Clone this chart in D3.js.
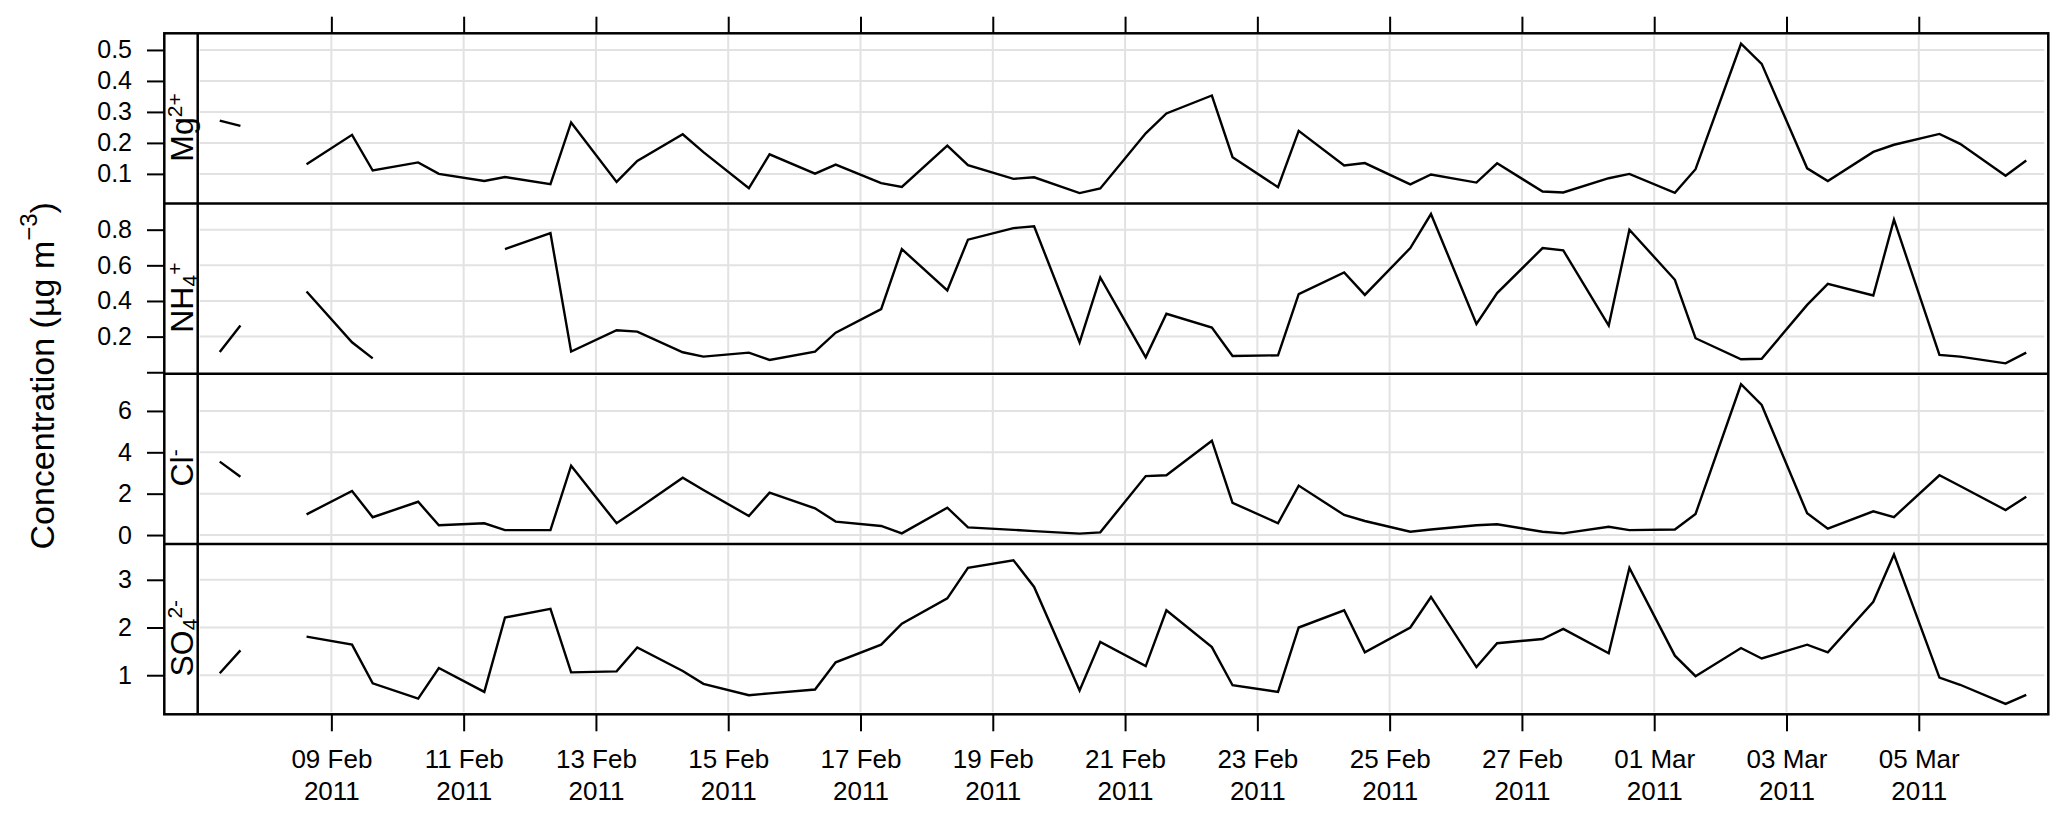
<!DOCTYPE html>
<html>
<head>
<meta charset="utf-8">
<script src="https://cdn.jsdelivr.net/npm/d3@7"></script>
<style>
  html, body { margin: 0; padding: 0; background: #ffffff; }
  svg { display: block; font-family: "Liberation Sans", Arial, Helvetica, sans-serif; }
</style>
</head>
<body>
<svg id="chart" width="2067" height="820"></svg>
<script>
// ---------------- DATA ----------------
const times = [
  "2011-02-07 07:30","2011-02-07 15:00","2011-02-08 07:30","2011-02-08 15:00",
  "2011-02-09 07:30","2011-02-09 15:00","2011-02-10 07:30","2011-02-10 15:00",
  "2011-02-11 07:30","2011-02-11 15:00","2011-02-12 07:30","2011-02-12 15:00",
  "2011-02-13 07:30","2011-02-13 15:00","2011-02-14 07:30","2011-02-14 15:00",
  "2011-02-15 07:30","2011-02-15 15:00","2011-02-16 07:30","2011-02-16 15:00",
  "2011-02-17 07:30","2011-02-17 15:00","2011-02-18 07:30","2011-02-18 15:00",
  "2011-02-19 07:30","2011-02-19 15:00","2011-02-20 07:30","2011-02-20 15:00",
  "2011-02-21 07:30","2011-02-21 15:00","2011-02-22 07:30","2011-02-22 15:00",
  "2011-02-23 07:30","2011-02-23 15:00","2011-02-24 07:30","2011-02-24 15:00",
  "2011-02-25 07:30","2011-02-25 15:00","2011-02-26 07:30","2011-02-26 15:00",
  "2011-02-27 07:30","2011-02-27 15:00","2011-02-28 07:30","2011-02-28 15:00",
  "2011-03-01 07:30","2011-03-01 15:00","2011-03-02 07:30","2011-03-02 15:00",
  "2011-03-03 07:30","2011-03-03 15:00","2011-03-04 07:30","2011-03-04 15:00",
  "2011-03-05 07:30","2011-03-05 15:00","2011-03-06 07:30","2011-03-06 15:00"
];

const mg = [
  0.272,0.255, null,0.131, 0.226,0.111, 0.137,0.100, 0.077,0.090, 0.067,0.266,
  0.074,0.142, 0.228,0.170, 0.054,0.163, 0.101,0.130, 0.070,0.058, 0.191,0.128,
  0.084,0.089, 0.038,0.053, 0.231,0.295, 0.353,0.154, 0.057,0.239, 0.127,0.135,
  0.066,0.098, 0.072,0.134, 0.043,0.040, 0.086,0.100, 0.039,0.115, 0.520,0.455,
  0.118,0.077, 0.171,0.194, 0.229,0.197, 0.094,0.143
];

const nh4 = [
  0.114,0.262, null,0.453, 0.168,0.078, null,null, null,0.691, 0.781,0.116,
  0.236,0.228, 0.112,0.088, 0.110,0.069, 0.116,0.222, 0.354,0.691, 0.459,0.744,
  0.809,0.819, 0.168,0.532, 0.084,0.328, 0.251,0.091, 0.095,0.438, 0.560,0.434,
  0.697,0.888, 0.271,0.444, 0.697,0.684, 0.262,0.800, 0.519,0.191, 0.073,0.076,
  0.378,0.496, 0.431,0.856, 0.097,0.088, 0.050,0.110
];

const cl = [
  3.55,2.82, null,1.00, 2.13,0.86, 1.61,0.47, 0.57,0.24, 0.24,3.35,
  0.57,1.25, 2.77,2.18, 0.92,2.05, 1.29,0.65, 0.44,0.08, 1.32,0.37,
  0.25,0.19, 0.07,0.13, 2.85,2.89, 4.56,1.56, 0.57,2.39, 0.97,0.68,
  0.16,0.27, 0.47,0.52, 0.16,0.08, 0.40,0.24, 0.27,1.02, 7.29,6.29,
  1.05,0.31, 1.15,0.87, 2.89,2.37, 1.21,1.85
];

const so4 = [
  1.04,1.52, null,1.81, 1.64,0.83, 0.51,1.15, 0.65,2.21, 2.39,1.06,
  1.08,1.58, 1.09,0.82, 0.58,0.62, 0.70,1.27, 1.64,2.08, 2.61,3.25,
  3.41,2.85, 0.68,1.70, 1.19,2.36, 1.59,0.79, 0.65,2.00, 2.36,1.48,
  2.00,2.64, 1.17,1.67, 1.76,1.97, 1.46,3.25, 1.41,0.98, 1.57,1.35,
  1.64,1.48, 2.54,3.53, 0.95,0.80, 0.40,0.59
];

const xTickDates = [
  "2011-02-09","2011-02-11","2011-02-13","2011-02-15","2011-02-17","2011-02-19",
  "2011-02-21","2011-02-23","2011-02-25","2011-02-27","2011-03-01","2011-03-03","2011-03-05"
];
const xDomain = ["2011-02-06 23:30", "2011-03-06 23:00"];

const mgTicks  = [0.1, 0.2, 0.3, 0.4, 0.5];
const mgTickLabels  = ["0.1","0.2","0.3","0.4","0.5"];
const nh4Ticks = [0, 0.2, 0.4, 0.6, 0.8];
const nh4TickLabels = ["", "0.2","0.4","0.6","0.8"];
const clTicks  = [0, 2, 4, 6];
const clTickLabels  = ["0","2","4","6"];
const so4Ticks = [1, 2, 3];
const so4TickLabels = ["1","2","3"];

const yTitleMain = "Concentration (µg m";
const yTitleSup = "−3";
const yTitleEnd = ")";

// ---------------- LAYOUT ----------------
const boxL = 164.3, stripR = 197.7, boxR = 2048.3, topY = 33.3, bottomY = 714.3;
const panelH = (bottomY - topY) / 4;

const parseT = d3.timeParse("%Y-%m-%d %H:%M");
const parseD = d3.timeParse("%Y-%m-%d");
const tDates = times.map(parseT);

const panels = [
  { values: mg,  ticks: mgTicks,  labels: mgTickLabels,  main: "Mg", sub: null, sup: "2+" },
  { values: nh4, ticks: nh4Ticks, labels: nh4TickLabels, main: "NH", sub: "4",  sup: "+" },
  { values: cl,  ticks: clTicks,  labels: clTickLabels,  main: "Cl", sub: null, sup: "-" },
  { values: so4, ticks: so4Ticks, labels: so4TickLabels, main: "SO", sub: "4",  sup: "2-" }
];

const svg = d3.select("#chart");
const x = d3.scaleTime().domain(xDomain.map(parseT)).range([stripR, boxR]);
const xTicks = xTickDates.map(parseD);

const gridCol = "#e2e2e2";

panels.forEach((p, i) => {
  const pTop = topY + i * panelH, pBot = pTop + panelH;
  const ext = d3.extent(p.values.filter(v => v != null));
  const pad = (ext[1] - ext[0]) * 0.07;
  const y = d3.scaleLinear().domain([ext[0] - pad, ext[1] + pad]).range([pBot, pTop]);
  const g = svg.append("g");

  g.selectAll("line.vg").data(xTicks).join("line")
    .attr("x1", d => x(d)).attr("x2", d => x(d))
    .attr("y1", pTop + 2).attr("y2", pBot - 2)
    .attr("stroke", gridCol).attr("stroke-width", 2);
  g.selectAll("line.hg").data(p.ticks.filter((t, k) => p.labels[k] !== "")).join("line")
    .attr("x1", stripR + 2).attr("x2", boxR - 4)
    .attr("y1", d => y(d)).attr("y2", d => y(d))
    .attr("stroke", gridCol).attr("stroke-width", 2);

  const line = d3.line()
    .defined(d => d[1] != null)
    .x(d => x(d[0])).y(d => y(d[1]));
  g.append("path")
    .datum(tDates.map((t, k) => [t, p.values[k]]))
    .attr("d", line)
    .attr("fill", "none").attr("stroke", "#000").attr("stroke-width", 2.4)
    .attr("stroke-linejoin", "miter").attr("stroke-linecap", "butt");

  const ax = svg.append("g").attr("transform", `translate(${boxL},0)`)
    .call(d3.axisLeft(y).tickValues(p.ticks).tickSize(17.3).tickPadding(15)
      .tickFormat((d, k) => p.labels[k]));
  ax.select(".domain").remove();
  ax.selectAll("line").attr("stroke", "#000").attr("stroke-width", 2);
  ax.selectAll("text").attr("font-size", 25).attr("fill", "#000")
    .attr("font-family", "Liberation Sans, Arial, sans-serif");

  const cy = (pTop + pBot) / 2 + 9;
  const t = svg.append("text")
    .attr("transform", `translate(192.7,${cy}) rotate(-90)`)
    .attr("text-anchor", "middle").attr("font-size", 32).attr("fill", "#000");
  t.append("tspan").text(p.main);
  if (p.sub) {
    t.append("tspan").attr("font-size", 21).attr("dy", 4).text(p.sub);
    t.append("tspan").attr("font-size", 21).attr("dy", -15).text(p.sup);
  } else {
    t.append("tspan").attr("font-size", 21).attr("dy", -11).text(p.sup);
  }

  if (i > 0) {
    svg.append("line").attr("x1", boxL).attr("x2", boxR)
      .attr("y1", pTop).attr("y2", pTop)
      .attr("stroke", "#000").attr("stroke-width", 2.5);
  }
});

svg.append("line").attr("x1", stripR).attr("x2", stripR)
  .attr("y1", topY).attr("y2", bottomY).attr("stroke", "#000").attr("stroke-width", 2.5);
svg.append("rect").attr("x", boxL).attr("y", topY)
  .attr("width", boxR - boxL).attr("height", bottomY - topY)
  .attr("fill", "none").attr("stroke", "#000").attr("stroke-width", 2.5);

const fmt1 = d3.timeFormat("%d %b"), fmt2 = d3.timeFormat("%Y");
const axB = svg.append("g").attr("transform", `translate(0,${bottomY})`)
  .call(d3.axisBottom(x).tickValues(xTicks).tickSize(17).tickFormat(""));
axB.select(".domain").remove();
axB.selectAll("line").attr("stroke", "#000").attr("stroke-width", 2);
axB.selectAll(".tick").each(function(d) {
  const tx = d3.select(this).append("text")
    .attr("fill", "#000").attr("font-size", 26).attr("text-anchor", "middle")
    .attr("font-family", "Liberation Sans, Arial, sans-serif");
  tx.append("tspan").attr("x", 0).attr("y", 54).text(fmt1(d));
  tx.append("tspan").attr("x", 0).attr("y", 86).text(fmt2(d));
});

const axT = svg.append("g").attr("transform", `translate(0,${topY})`)
  .call(d3.axisTop(x).tickValues(xTicks).tickSize(16.6).tickFormat(""));
axT.select(".domain").remove();
axT.selectAll("line").attr("stroke", "#000").attr("stroke-width", 2);

const yt = svg.append("text")
  .attr("transform", `translate(53.5,${(topY + bottomY) / 2 + 2}) rotate(-90)`)
  .attr("text-anchor", "middle").attr("font-size", 34).attr("fill", "#000");
yt.append("tspan").text(yTitleMain);
yt.append("tspan").attr("font-size", 24).attr("dy", -17).text(yTitleSup);
yt.append("tspan").attr("dy", 17).text(yTitleEnd);
</script>
</body>
</html>
